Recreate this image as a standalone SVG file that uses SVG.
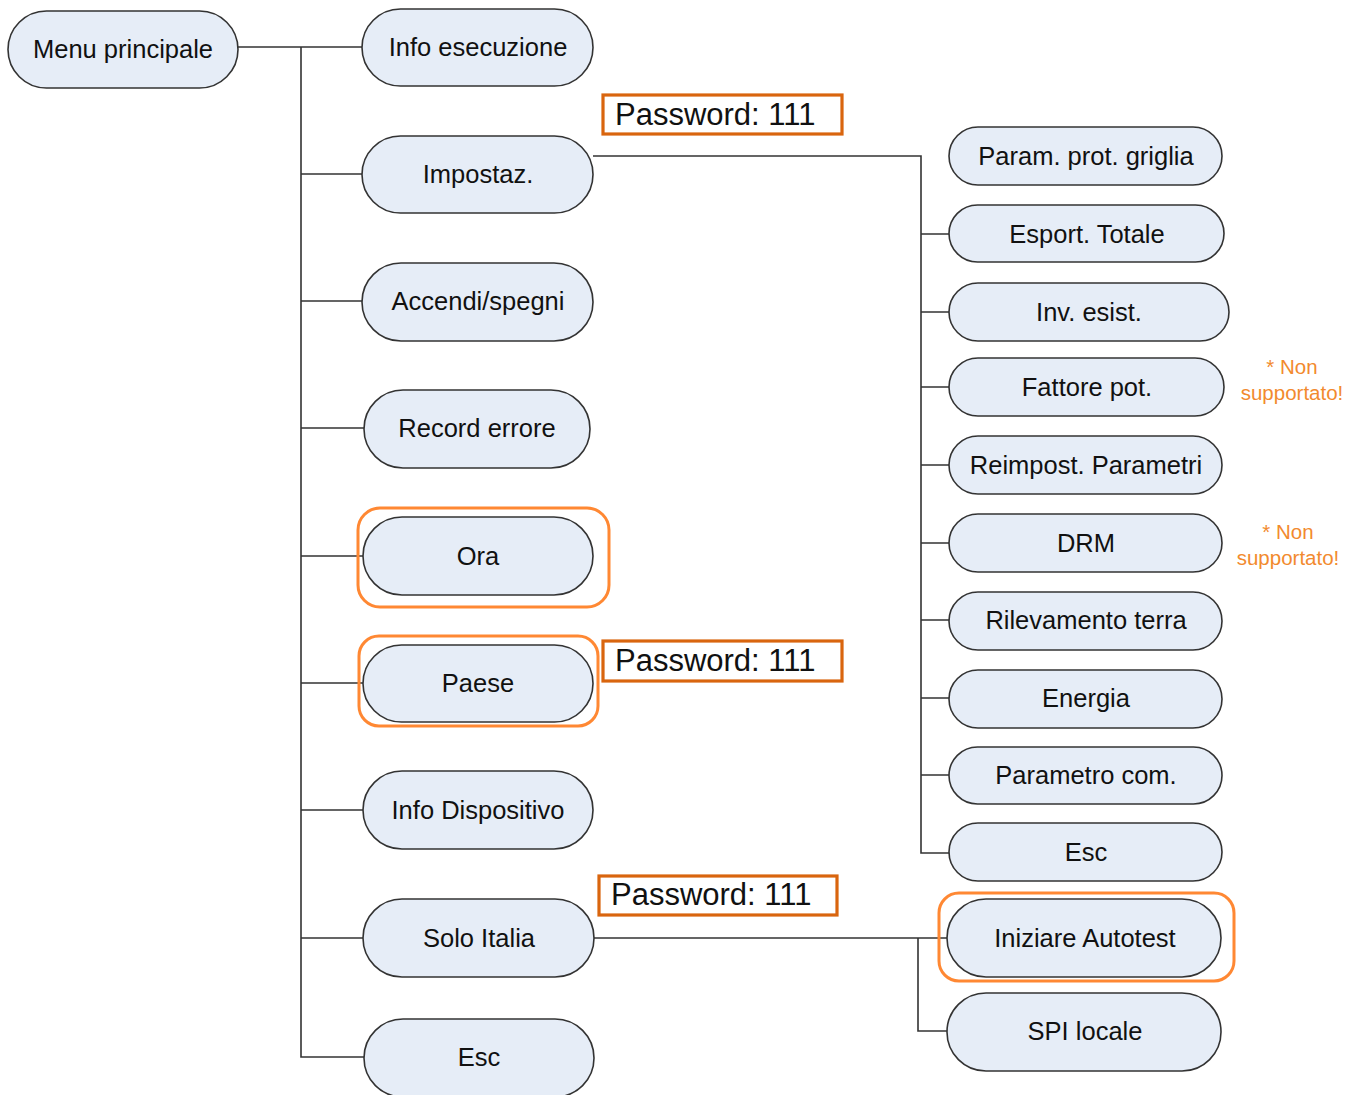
<svg xmlns="http://www.w3.org/2000/svg" width="1360" height="1095" viewBox="0 0 1360 1095">
<style>
.n rect{fill:#e6edf7;stroke:#333;stroke-width:1.6}
.n text{font-family:"Liberation Sans",Arial,sans-serif;font-size:25.5px;fill:#111;text-anchor:middle}
.hl{fill:none;stroke:#ff8833;stroke-width:3}
.pw rect{fill:#fff;stroke:#d9650e;stroke-width:3.2}
.pw text{font-family:"Liberation Sans",Arial,sans-serif;font-size:31px;fill:#111}
.ns{font-family:"Liberation Sans",Arial,sans-serif;font-size:20.5px;fill:#f28a2e;text-anchor:middle}
.c path{fill:none;stroke:#333;stroke-width:1.6}
</style>
<rect width="1360" height="1095" fill="#fff"/>
<g class="c" id="connectors">
<path d="M238 47H362M301 47V1057H364"/>
<path d="M301 174H363M301 301H363M301 428H364M301 556H363M301 683H363M301 810H363M301 938H363"/>
<path d="M593 156H921V853H950"/>
<path d="M921 234H950M921 312H950M921 387H950M921 465H950M921 543H950M921 620H950M921 698H950M921 775H950"/>
<path d="M594 938H947M918 938V1031H947"/>
</g>
<g class="n" id="menu"><rect x="8" y="11" width="230" height="77" rx="38.5"/><text x="123" y="58">Menu principale</text></g>
<g class="n" id="info-esecuzione"><rect x="362" y="9" width="231" height="77" rx="38.5"/><text x="478" y="56">Info esecuzione</text></g>
<g class="n" id="impostaz"><rect x="362" y="136" width="231" height="77" rx="38.5"/><text x="478" y="183">Impostaz.</text></g>
<g class="n" id="accendi"><rect x="362" y="263" width="231" height="78" rx="39"/><text x="478" y="310">Accendi/spegni</text></g>
<g class="n" id="record"><rect x="364" y="390" width="226" height="78" rx="39"/><text x="477" y="437">Record errore</text></g>
<g class="n" id="ora"><rect x="363" y="517" width="230" height="78" rx="39"/><text x="478" y="565">Ora</text></g>
<rect class="hl" x="358" y="508" width="251" height="99" rx="22"/>
<g class="n" id="paese"><rect x="363" y="645" width="230" height="77" rx="38.5"/><text x="478" y="692">Paese</text></g>
<rect class="hl" x="359" y="636" width="239" height="90" rx="20"/>
<g class="n" id="info-dispositivo"><rect x="363" y="771" width="230" height="78" rx="39"/><text x="478" y="819">Info Dispositivo</text></g>
<g class="n" id="solo-italia"><rect x="363" y="899" width="231" height="78" rx="39"/><text x="479" y="947">Solo Italia</text></g>
<g class="n" id="esc1"><rect x="364" y="1019" width="230" height="78" rx="39"/><text x="479" y="1066">Esc</text></g>
<g class="pw" id="pw1"><rect x="603" y="95" width="239" height="39"/><text x="615" y="125">Password: 111</text></g>
<g class="pw" id="pw2"><rect x="603" y="641" width="239" height="40"/><text x="615" y="671">Password: 111</text></g>
<g class="pw" id="pw3"><rect x="599" y="876" width="238" height="39"/><text x="611" y="905">Password: 111</text></g>
<g class="n" id="param-prot"><rect x="949" y="127" width="273" height="58" rx="29"/><text x="1086" y="165">Param. prot. griglia</text></g>
<g class="n" id="esport"><rect x="949" y="205" width="275" height="57" rx="28.5"/><text x="1087" y="243">Esport. Totale</text></g>
<g class="n" id="inv"><rect x="949" y="283" width="280" height="58" rx="29"/><text x="1089" y="321">Inv. esist.</text></g>
<g class="n" id="fattore"><rect x="949" y="358" width="275" height="58" rx="29"/><text x="1087" y="396">Fattore pot.</text></g>
<g class="n" id="reimpost"><rect x="949" y="436" width="273" height="58" rx="29"/><text x="1086" y="474">Reimpost. Parametri</text></g>
<g class="n" id="drm"><rect x="949" y="514" width="273" height="58" rx="29"/><text x="1086" y="552">DRM</text></g>
<g class="n" id="rilevamento"><rect x="949" y="592" width="273" height="58" rx="29"/><text x="1086" y="629">Rilevamento terra</text></g>
<g class="n" id="energia"><rect x="949" y="670" width="273" height="58" rx="29"/><text x="1086" y="707">Energia</text></g>
<g class="n" id="parametro-com"><rect x="949" y="747" width="273" height="57" rx="28.5"/><text x="1086" y="784">Parametro com.</text></g>
<g class="n" id="esc2"><rect x="949" y="823" width="273" height="58" rx="29"/><text x="1086" y="861">Esc</text></g>
<g class="n" id="autotest"><rect x="947" y="899" width="274" height="78" rx="39"/><text x="1085" y="947">Iniziare Autotest</text></g>
<rect class="hl" x="939" y="893" width="295" height="88" rx="20"/>
<g class="n" id="spi"><rect x="947" y="993" width="274" height="78" rx="39"/><text x="1085" y="1040">SPI locale</text></g>
<g id="notes">
<text class="ns" x="1292" y="374">* Non</text>
<text class="ns" x="1292" y="400">supportato!</text>
<text class="ns" x="1288" y="539">* Non</text>
<text class="ns" x="1288" y="565">supportato!</text>
</g>
</svg>
